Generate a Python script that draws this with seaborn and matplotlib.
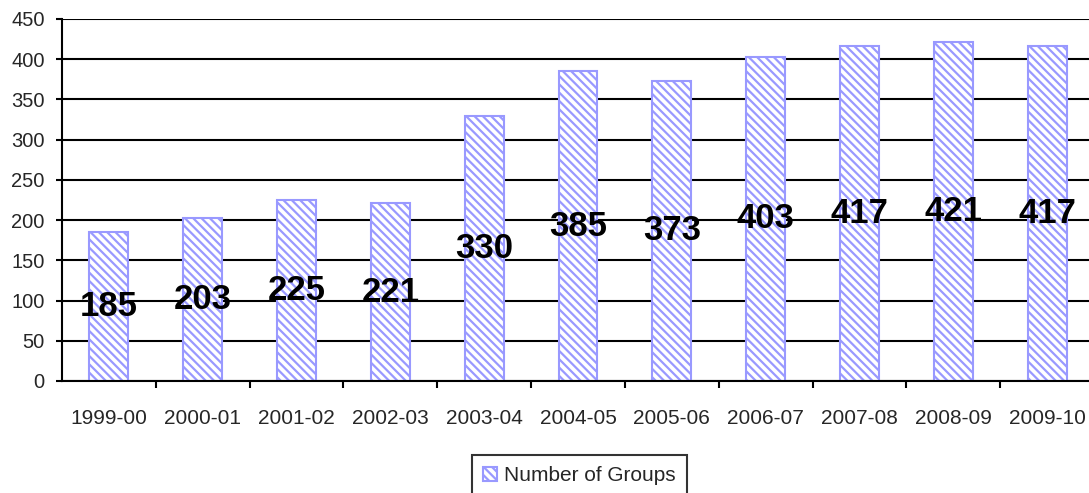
import matplotlib
matplotlib.use("Agg")
import matplotlib.pyplot as plt
import seaborn as sns

# dados do gráfico
years = ["1999-00", "2000-01", "2001-02", "2002-03", "2003-04", "2004-05",
         "2005-06", "2006-07", "2007-08", "2008-09", "2009-10"]
groups = [185, 203, 225, 221, 330, 385, 373, 403, 417, 421, 417]
series_name = "Number of Groups"
y_ticks = [0, 50, 100, 150, 200, 250, 300, 350, 400, 450]

sns.set_style("white")
plt.rcParams["font.family"] = ["Liberation Sans", "DejaVu Sans"]
plt.rcParams["hatch.linewidth"] = 1.6

fig = plt.figure(figsize=(10.89, 4.93), dpi=100)
ax = fig.add_axes([62 / 1089, 1 - 381 / 493, 1032 / 1089, 362 / 493])

sns.barplot(x=years, y=groups, color="white", edgecolor="#9999ff",
            linewidth=1.5, hatch="\\\\\\\\", width=0.415, label=series_name, ax=ax)

# rótulos no meio das barras
for i, v in enumerate(groups):
    ax.text(i, v / 2, str(v), ha="center", va="center", fontsize=25,
            fontweight="bold", color="black")

ax.set_ylim(0, 450)
ax.set_xlim(-0.5, len(years) - 0.5)
ax.set_yticks(y_ticks)
ax.yaxis.grid(True, color="black", linewidth=1.5)
ax.set_axisbelow(True)

# ticks do eixo x entre as categorias
ax.set_xticks(range(len(years)))
ax.set_xticklabels(years)
ax.set_xticks([i + 0.5 for i in range(len(years))], minor=True)
ax.tick_params(axis="x", which="major", length=0, pad=20, labelsize=15)
ax.tick_params(axis="x", which="minor", length=5, width=1.5, color="black", direction="out")
ax.tick_params(axis="y", length=4.5, width=1.5, color="black", direction="out", pad=8, labelsize=14.5)
ax.tick_params(bottom=True, left=True, which="both")

for side in ["top", "right"]:
    ax.spines[side].set_visible(False)
for side in ["left", "bottom"]:
    ax.spines[side].set_color("black")
    ax.spines[side].set_linewidth(1.5)
ax.set_xlabel("")
ax.set_ylabel("")

handles, labels = ax.get_legend_handles_labels()
if ax.get_legend() is not None:
    ax.get_legend().remove()
leg = fig.legend(handles[:1], labels[:1], loc="upper left",
                 bbox_to_anchor=(472 / 1089, 1 - 455 / 493), fontsize=15,
                 frameon=True, fancybox=False, handlelength=0.65, handleheight=0.65,
                 handletextpad=0.35, borderpad=0.55, borderaxespad=0)
leg.get_frame().set_edgecolor("black")
leg.get_frame().set_linewidth(1.5)

fig.savefig("out.png", dpi=100)
